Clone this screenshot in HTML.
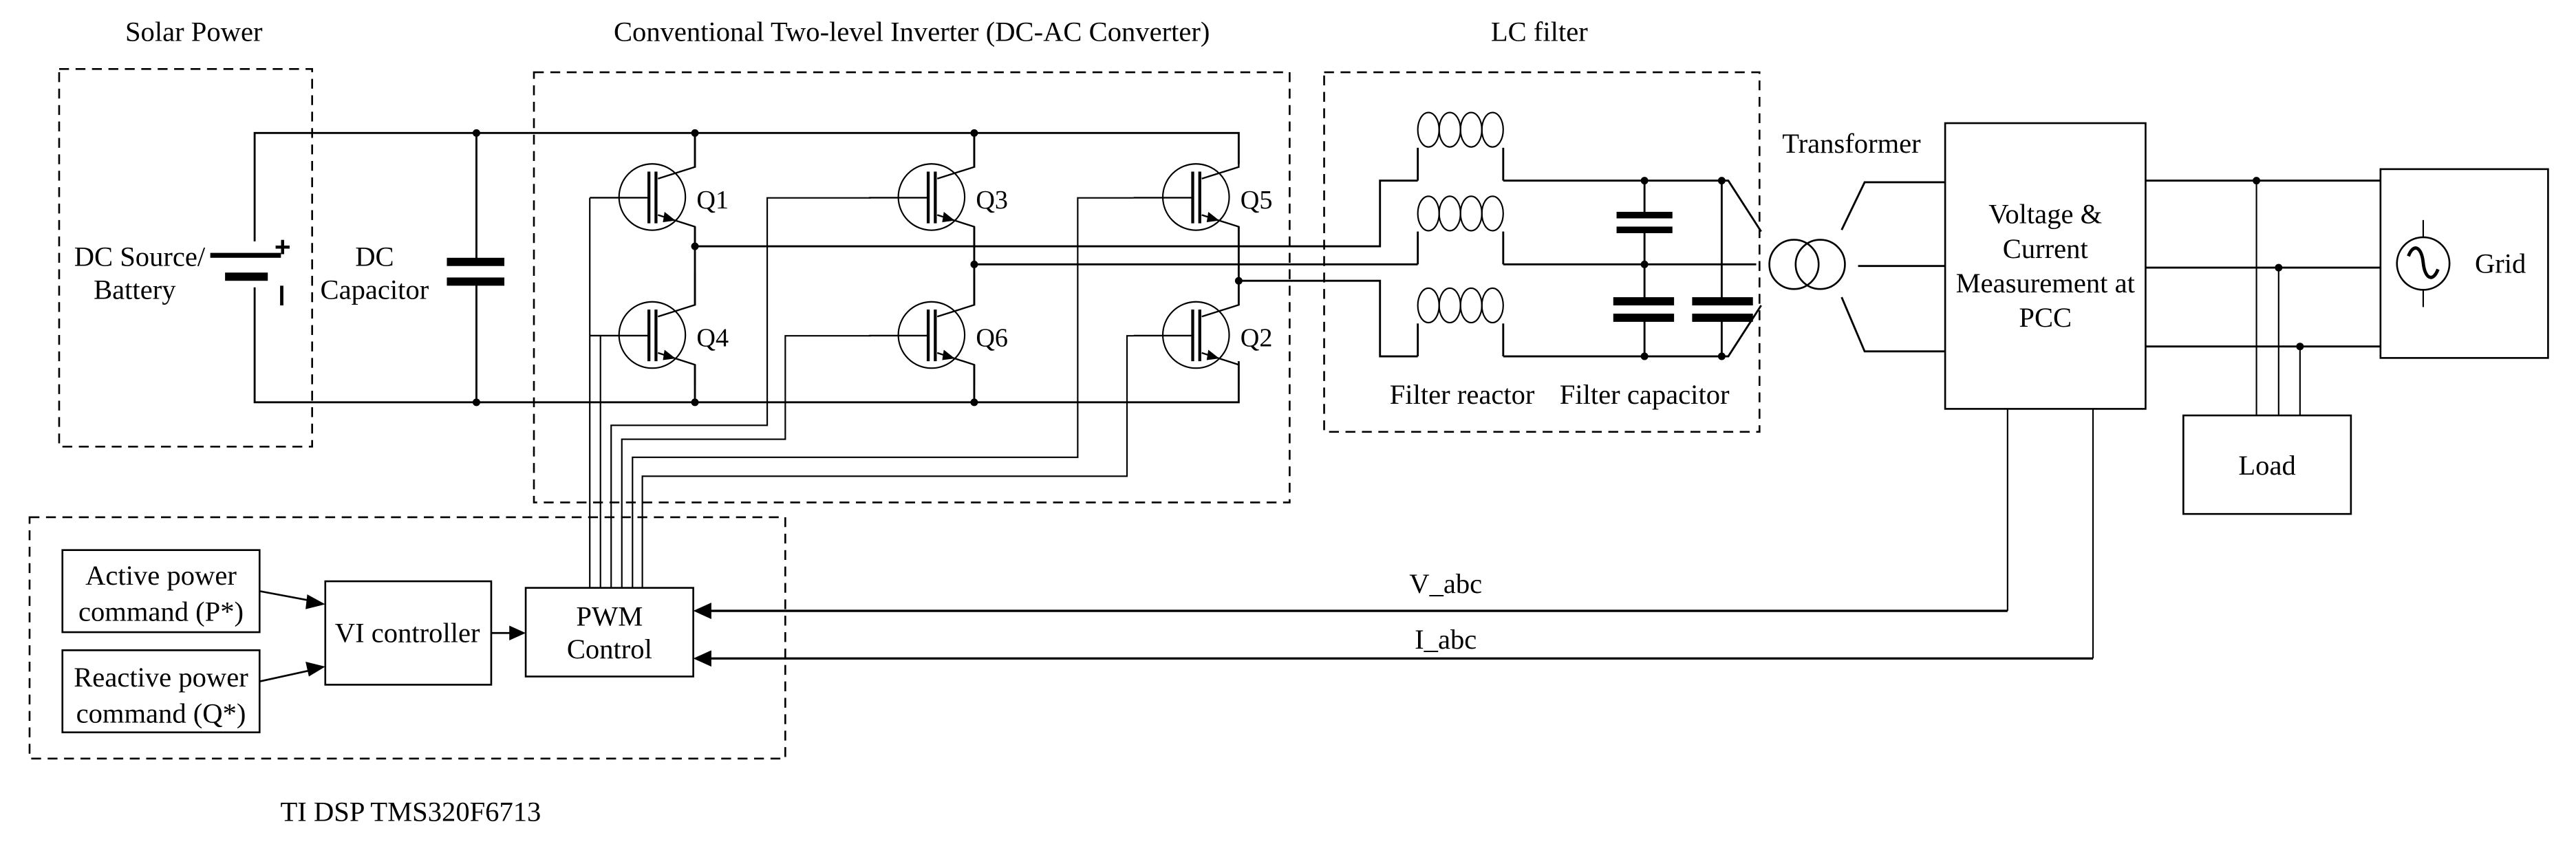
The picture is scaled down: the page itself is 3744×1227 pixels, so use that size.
<!DOCTYPE html>
<html><head><meta charset="utf-8"><style>
html,body{margin:0;padding:0;background:#fff;}
svg{display:block;}
text{font-family:"Liberation Serif",serif;fill:#000;}
</style></head><body>
<svg width="3744" height="1227" viewBox="0 0 1568 514" preserveAspectRatio="none" xmlns="http://www.w3.org/2000/svg">
<defs>
<g id="igbt">
  <circle cx="0" cy="0" r="20.2" fill="none" stroke="#000" stroke-width="0.9"/>
  <line x1="-2" y1="-15.5" x2="-2" y2="16" stroke="#000" stroke-width="1.8"/>
  <line x1="2.3" y1="-15.5" x2="2.3" y2="16" stroke="#000" stroke-width="1.8"/>
  <line x1="-38" y1="0.4" x2="-2" y2="0.4" stroke="#000" stroke-width="1"/>
  <polyline points="3.5,-11.2 26,-18.3 26,-38" fill="none" stroke="#000" stroke-width="1"/>
  <polyline points="3.5,10.9 26,18.1 26,31" fill="none" stroke="#000" stroke-width="1"/>
  <polygon points="14.2,14.3 7.5,9 6.5,15.3" fill="#000"/>
</g>
<g id="ind">
  <ellipse cx="6.5" cy="-11" rx="6.5" ry="10.5" fill="none" stroke="#000" stroke-width="0.9"/>
  <ellipse cx="19.5" cy="-11" rx="6.5" ry="10.5" fill="none" stroke="#000" stroke-width="0.9"/>
  <ellipse cx="32.5" cy="-11" rx="6.5" ry="10.5" fill="none" stroke="#000" stroke-width="0.9"/>
  <ellipse cx="45.5" cy="-11" rx="6.5" ry="10.5" fill="none" stroke="#000" stroke-width="0.9"/>
</g>
</defs>
<g fill="none" stroke="#000">
<g stroke-width="1.1" stroke-dasharray="6,4">
<rect x="36" y="42" width="154" height="230"/>
<rect x="325" y="44" width="460" height="262"/>
<rect x="806" y="44" width="265" height="219"/>
<rect x="18" y="315" width="460" height="147"/>
</g>
<g stroke-width="1.2">
<polyline points="155,147 155,81 754,81 754,100"/>
<polyline points="155,175 155,245 754,245 754,220"/>
<line x1="290" y1="81" x2="290" y2="159"/>
<line x1="290" y1="172" x2="290" y2="245"/>
<line x1="423" y1="81" x2="423" y2="102"/>
<line x1="423" y1="138" x2="423" y2="186"/>
<line x1="423" y1="222" x2="423" y2="245"/>
<line x1="593" y1="81" x2="593" y2="102"/>
<line x1="593" y1="138" x2="593" y2="186"/>
<line x1="593" y1="222" x2="593" y2="245"/>
<line x1="754" y1="138" x2="754" y2="186"/>
<polyline points="423,150 840,150 840,110 863,110"/>
<polyline points="593,161 863,161"/>
<polyline points="754,171 840,171 840,217 863,217"/>
<line x1="863" y1="110" x2="863" y2="90"/><line x1="915" y1="110" x2="915" y2="90"/>
<line x1="863" y1="161" x2="863" y2="141"/><line x1="915" y1="161" x2="915" y2="141"/>
<line x1="863" y1="217" x2="863" y2="197"/><line x1="915" y1="217" x2="915" y2="197"/>
<polyline points="915,110 1052,110 1072,141"/>
<polyline points="915,161 1069,161"/>
<polyline points="915,217 1052,217 1072,186"/>
<line x1="1001" y1="110" x2="1001" y2="131"/>
<line x1="1001" y1="140" x2="1001" y2="183"/>
<line x1="1001" y1="194" x2="1001" y2="217"/>
<line x1="1048" y1="110" x2="1048" y2="183"/>
<line x1="1048" y1="194" x2="1048" y2="217"/>
<polyline points="1121,140 1135,111 1184,111"/>
<line x1="1131" y1="162" x2="1184" y2="162"/>
<polyline points="1121,181 1135,214 1184,214"/>
<line x1="1306" y1="110" x2="1449" y2="110"/>
<line x1="1306" y1="163" x2="1449" y2="163"/>
<line x1="1306" y1="211" x2="1449" y2="211"/>
</g>
<g stroke-width="0.9">
<line x1="1373.5" y1="110" x2="1373.5" y2="253"/>
<line x1="1387" y1="163" x2="1387" y2="253"/>
<line x1="1400" y1="211" x2="1400" y2="253"/>
<line x1="1475" y1="134" x2="1475" y2="187"/>
<polyline points="1222,249 1222,372"/>
<polyline points="1274,249 1274,401"/>
<polyline points="359,358 359,120.5"/>
<polyline points="365.5,358 365.5,204.5"/>
<polyline points="372,358 372,259 467,259 467,120.5 530,120.5"/>
<polyline points="378.5,358 378.5,267.5 478,267.5 478,204.5 530,204.5"/>
<polyline points="385,358 385,278.5 656,278.5 656,120.5 690,120.5"/>
<polyline points="391,358 391,290 686,290 686,204.5 690,204.5"/>
</g>
<g stroke-width="1.1">
<rect x="1184" y="75" width="122" height="174"/>
<rect x="1449" y="103" width="102" height="115"/>
<rect x="1329" y="253" width="102" height="60"/>
<rect x="38" y="335" width="120" height="50"/>
<rect x="38" y="396" width="120" height="50"/>
<rect x="198" y="354" width="101" height="63"/>
<rect x="320" y="358" width="102" height="54"/>
<circle cx="1475" cy="160.5" r="16" fill="#fff"/>
<path d="M1466,156 C1469,148 1474,150 1475,160 C1476,170 1481,172 1484,164" stroke-width="2"/>
<circle cx="1092" cy="161" r="15"/>
<circle cx="1108" cy="161" r="15"/>
<line x1="1222" y1="372" x2="432" y2="372" stroke-width="1.4"/>
<line x1="1274" y1="401" x2="432" y2="401" stroke-width="1.4"/>
<line x1="158" y1="360" x2="190" y2="366"/>
<line x1="158" y1="415" x2="190" y2="408"/>
<line x1="299" y1="385.5" x2="312" y2="385.5"/>
</g>
</g>
<g fill="#000">
<polygon points="422,372 433,367 433,377"/>
<polygon points="422,401 433,396 433,406"/>
<polygon points="198,368 187,362 186,371"/>
<polygon points="198,406 186,403 188,412"/>
<polygon points="320,385.5 310,381 310,390"/>
</g>
<g fill="#000">
<rect x="128" y="154" width="43" height="3"/>
<rect x="137" y="166" width="26" height="5"/>
<rect x="272" y="157" width="35" height="5"/>
<rect x="272" y="169" width="35" height="5"/>
<rect x="984" y="129" width="34" height="4"/>
<rect x="984" y="138" width="34" height="4"/>
<rect x="982" y="181" width="37" height="5"/>
<rect x="982" y="191" width="37" height="5"/>
<rect x="1030" y="181" width="37" height="5"/>
<rect x="1030" y="191" width="37" height="5"/>
</g>
<g fill="#000">
<circle cx="290" cy="81" r="2.3"/><circle cx="290" cy="245" r="2.3"/>
<circle cx="423" cy="81" r="2.3"/><circle cx="593" cy="81" r="2.3"/>
<circle cx="423" cy="245" r="2.3"/><circle cx="593" cy="245" r="2.3"/>
<circle cx="423" cy="150" r="2.3"/><circle cx="593" cy="161" r="2.3"/><circle cx="754" cy="171" r="2.3"/>
<circle cx="1001" cy="110" r="2.3"/><circle cx="1048" cy="110" r="2.3"/>
<circle cx="1001" cy="161" r="2.3"/>
<circle cx="1001" cy="217" r="2.3"/><circle cx="1048" cy="217" r="2.3"/>
<circle cx="1373.5" cy="110" r="2.3"/><circle cx="1387" cy="163" r="2.3"/><circle cx="1400" cy="211" r="2.3"/>
</g>
<use href="#igbt" x="397" y="120"/>
<use href="#igbt" x="397" y="204"/>
<use href="#igbt" x="567" y="120"/>
<use href="#igbt" x="567" y="204"/>
<use href="#igbt" x="728" y="120"/>
<use href="#igbt" x="728" y="204"/>
<use href="#ind" x="863" y="90"/>
<use href="#ind" x="863" y="141"/>
<use href="#ind" x="863" y="197"/>
<g font-size="17">
<text x="118" y="25" text-anchor="middle">Solar Power</text>
<text x="555" y="25" text-anchor="middle">Conventional Two-level Inverter (DC-AC Converter)</text>
<text x="937" y="25" text-anchor="middle">LC filter</text>
<text x="85" y="162" text-anchor="middle">DC Source/</text>
<text x="82" y="182" text-anchor="middle">Battery</text>
<text x="228" y="162" text-anchor="middle">DC</text>
<text x="228" y="182" text-anchor="middle">Capacitor</text>
<text x="890" y="246" text-anchor="middle">Filter reactor</text>
<text x="1001" y="246" text-anchor="middle">Filter capacitor</text>
<text x="1127" y="93" text-anchor="middle">Transformer</text>
<text x="1245" y="136" text-anchor="middle">Voltage &amp;</text>
<text x="1245" y="157" text-anchor="middle">Current</text>
<text x="1245" y="178" text-anchor="middle">Measurement at</text>
<text x="1245" y="199" text-anchor="middle">PCC</text>
<text x="1522" y="166" text-anchor="middle">Grid</text>
<text x="1380" y="289" text-anchor="middle">Load</text>
<text x="98" y="356" text-anchor="middle">Active power</text>
<text x="98" y="378" text-anchor="middle">command (P*)</text>
<text x="98" y="418" text-anchor="middle">Reactive power</text>
<text x="98" y="440" text-anchor="middle">command (Q*)</text>
<text x="248" y="391" text-anchor="middle">VI controller</text>
<text x="371" y="381" text-anchor="middle">PWM</text>
<text x="371" y="401" text-anchor="middle">Control</text>
<text x="880" y="361" text-anchor="middle">V_abc</text>
<text x="880" y="395" text-anchor="middle">I_abc</text>
<text x="250" y="500" text-anchor="middle">TI DSP TMS320F6713</text>
</g>
<g font-size="16">
<text x="424" y="127">Q1</text>
<text x="424" y="211">Q4</text>
<text x="594" y="127">Q3</text>
<text x="594" y="211">Q6</text>
<text x="755" y="127">Q5</text>
<text x="755" y="211">Q2</text>
</g>
<text x="172" y="156" font-size="17" text-anchor="middle" style="font-family:'Liberation Sans',sans-serif;font-weight:bold">+</text>
<rect x="170.5" y="174" width="2" height="12" fill="#000"/>
</svg>
</body></html>
